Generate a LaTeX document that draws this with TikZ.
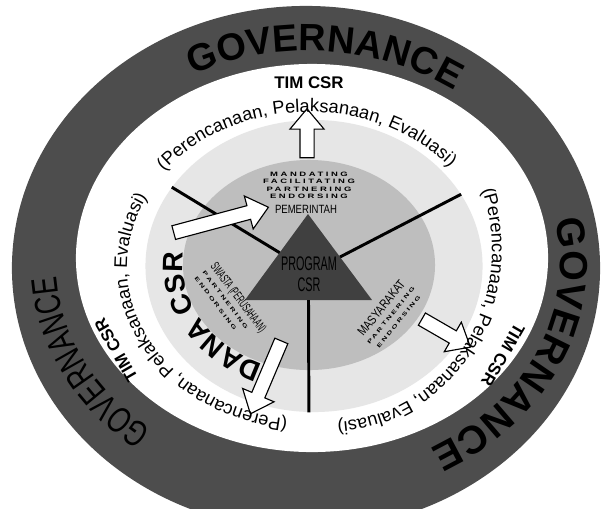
\documentclass[tikz,border=0pt]{standalone}
\usepackage{fontspec}
\setmainfont{Liberation Sans}
\newfontfamily\narrowfont[FakeStretch=0.55]{Liberation Sans}
\newfontfamily\condfont[FakeStretch=0.8]{Liberation Sans}
\newfontfamily\widefont[FakeStretch=1.5,LetterSpace=40]{Liberation Sans}
\newfontfamily\govfont[FakeStretch=0.72]{Liberation Sans}
\usepackage{tikz}
\usetikzlibrary{shapes, arrows, positioning, calc, decorations.text}
\definecolor{darkring}{RGB}{77,77,77}
\definecolor{lightring}{RGB}{230,230,230}
\definecolor{midring}{RGB}{190,190,190}
\definecolor{trifill}{RGB}{64,64,64}
\tikzstyle{ring} = [ellipse, inner sep=0pt]
\tikzstyle{divider} = [draw, line width=2.1pt]
\tikzstyle{bigarrow} = [single arrow, draw, fill=white, line width=0.8pt, inner xsep=0pt, inner ysep=0.1625cm, single arrow head extend=0.25cm, single arrow tip angle=80]
\tikzstyle{ringtext} = [decorate, decoration={text along path, text align=center}]
\tikzstyle{timlabel} = [font=\bfseries\fontsize{12}{12}\selectfont, inner sep=0pt]
\tikzstyle{rolelist} = [font=\widefont\bfseries\fontsize{4.5}{5.3}\selectfont, align=center, inner sep=0pt]

\begin{document}
\begin{tikzpicture}[x=0.025cm, y=0.025cm]
	\useasboundingbox (0,0) rectangle (604,-508);
	\clip (0,0) rectangle (604,-508);

	\node [ring, fill=darkring, minimum width=14.7cm, minimum height=13.1cm] (govRing) at (306,-268) {};
	\node [ring, fill=white, minimum width=11.8cm, minimum height=9.7cm] (timRing) at (312,-258) {};
	\node [ring, fill=lightring, minimum width=8.425cm, minimum height=7.3cm] (danaRing) at (314,-266) {};
	\node [ring, fill=midring, minimum width=6.3cm, minimum height=5.25cm] (actorRing) at (309,-265) {};

	\coordinate (apex) at (308,-214);
	\coordinate (baseL) at (245,-300);
	\coordinate (baseR) at (372,-300);
	\fill [trifill] (apex) -- (baseL) -- (baseR) -- cycle;
	\coordinate (sideL) at ($(apex)!0.45!(baseL)$);
	\coordinate (sideR) at ($(apex)!0.5!(baseR)$);
	\coordinate (baseM) at ($(baseL)!0.5!(baseR)$);

	\path [divider] (sideL) -- (danaRing.151);
	\path [divider] (sideR) -- (danaRing.26);
	\path [divider] (baseM) -- (danaRing.268);

	\node [bigarrow, minimum height=1.225cm, rotate=90] (arrTim) at (307,-137.5) {};
	\node [bigarrow, minimum height=2.45cm, rotate=15] (arrPem) at (217,-221) {};
	\node [bigarrow, minimum height=1.98cm, rotate=-113] (arrSwasta) at (267.5,-373.5) {};
	\node [bigarrow, minimum height=1.4cm, rotate=-30] (arrMasy) at (442.5,-331) {};

	\node [font=\narrowfont\fontsize{14}{15}\selectfont, align=center] (prog) at (309,-274) {PROGRAM\\CSR};
	\node [rolelist] (roles) at (309,-185.5) {MANDATING\\FACILITATING\\PARTNERING\\ENDORSING};
	\node [font=\condfont\fontsize{8.5}{9}\selectfont, inner sep=0pt] (pem) at (306,-209) {PEMERINTAH};
	\node [rolelist, font=\widefont\bfseries\fontsize{3.8}{7}\selectfont, align=left, rotate=-53] (swasta) at (231,-303)
		{{\narrowfont\mdseries\fontsize{9}{9}\selectfont SWASTA (PERUSAHAAN)}\\PARTNERING\\ENDORSING};
	\node [rolelist, font=\widefont\bfseries\fontsize{3.8}{7}\selectfont, rotate=51] (masy) at (389,-314)
		{{\condfont\mdseries\fontsize{9}{9}\selectfont MASYARAKAT}\\PARTNERING\\ENDORSING};

	\path [ringtext, decoration={text={|\bfseries\fontsize{20}{20}\selectfont|DANA CSR}}, shift={(309,-265)}]
		(260:126 and 106) arc [start angle=260, end angle=160, x radius=126, y radius=106];

	\node [timlabel] (timTop) at (309,-83) {TIM CSR};
	\node [timlabel, rotate=-120] (timRight) at (503,-355) {TIM CSR};
	\node [timlabel, rotate=120] (timLeft) at (116,-350) {TIM CSR};

	\path [ringtext, decoration={text={|\fontsize{13}{13}\selectfont|(Perencanaan, Pelaksanaan, Evaluasi)}}, shift={(309,-267)}]
		(166:184 and 155) arc [start angle=166, end angle=16, x radius=184, y radius=155];
	\path [ringtext, decoration={text={|\fontsize{13}{13}\selectfont|(Perencanaan, Pelaksanaan, Evaluasi)}}, shift={(330,-250)}]
		(41:162 and 172) arc [start angle=41, end angle=-109, x radius=162, y radius=172];
	\path [ringtext, decoration={text={|\fontsize{13}{13}\selectfont|(Perencanaan, Pelaksanaan, Evaluasi)}}, shift={(309,-267)}]
		(282:182 and 153) arc [start angle=282, end angle=132, x radius=182, y radius=153];

	\path [ringtext, decoration={text={|\bfseries\fontsize{27}{27}\selectfont|GOVERNANCE}}, shift={(308,-263)}]
		(150:252 and 212) arc [start angle=150, end angle=21, x radius=252, y radius=212];
	\path [ringtext, decoration={text={|\bfseries\fontsize{28}{28}\selectfont|GOVERNANCE}}, shift={(308,-263)}]
		(40:252 and 212) arc [start angle=40, end angle=-86, x radius=252, y radius=212];
	\path [ringtext, decoration={text={|\govfont\fontsize{26}{26}\selectfont|GOVERNANCE}}, shift={(308,-263)}]
		(270:252 and 212) arc [start angle=270, end angle=140, x radius=252, y radius=212];
\end{tikzpicture}
\end{document}
